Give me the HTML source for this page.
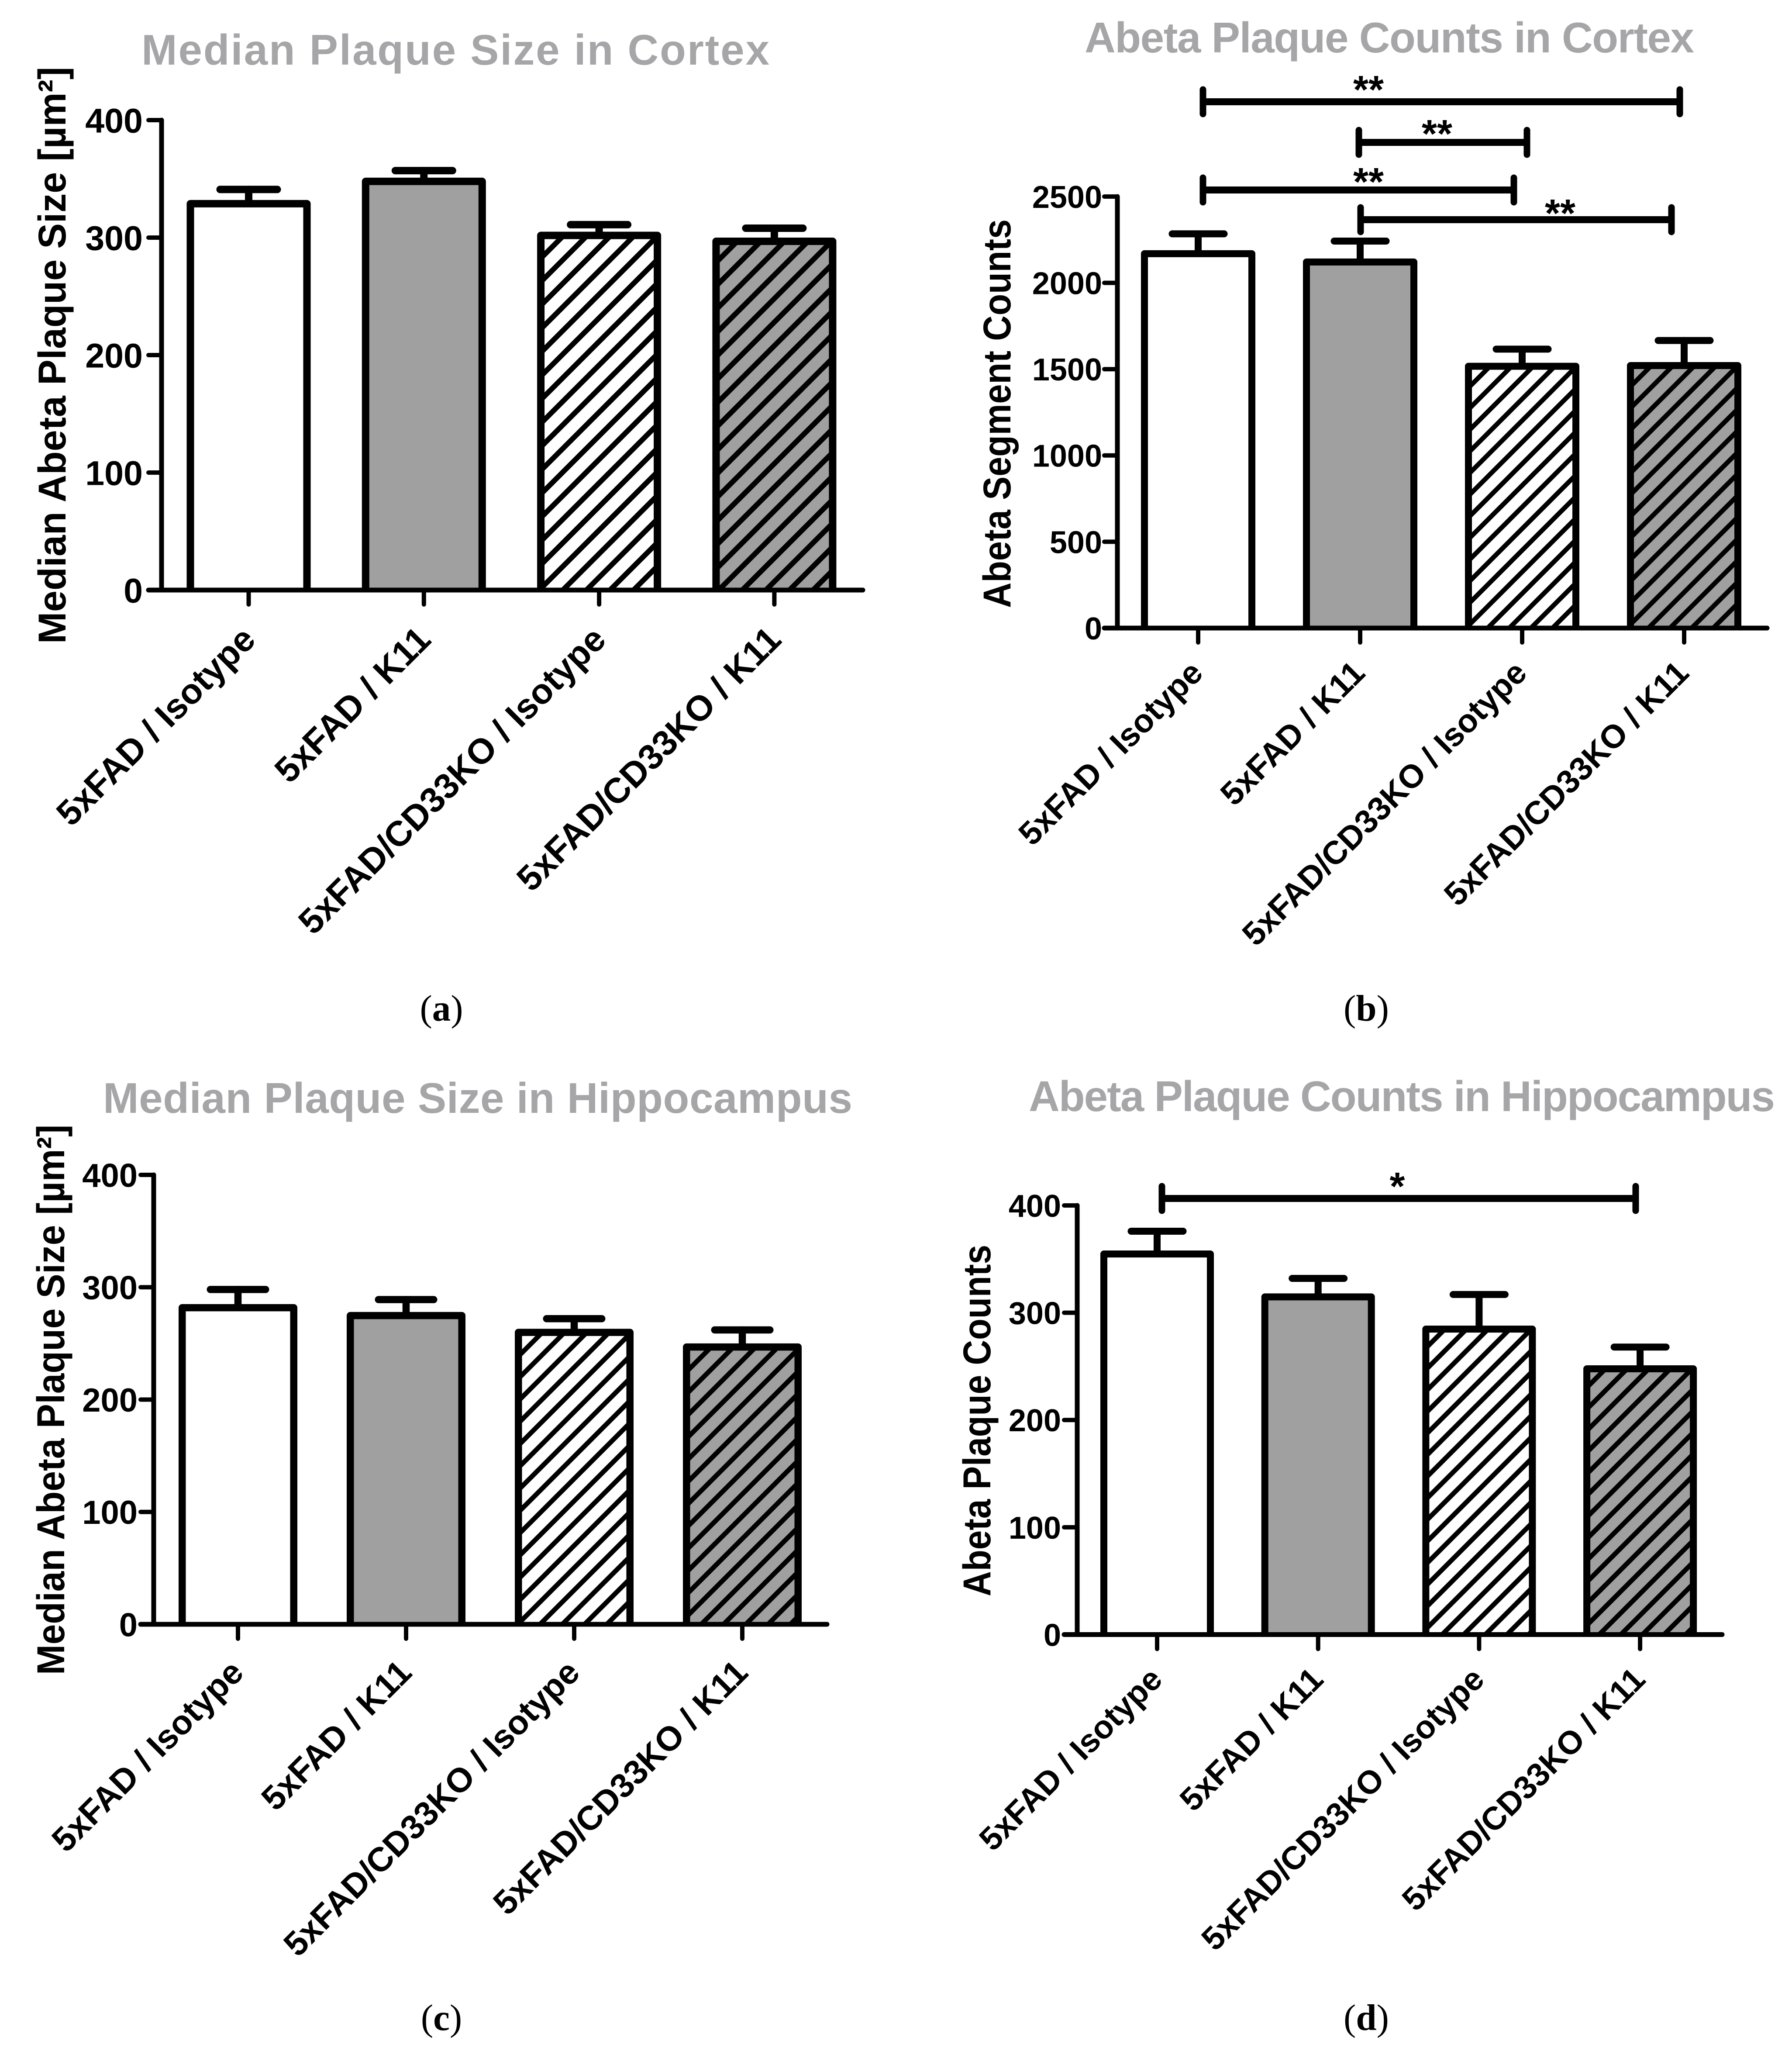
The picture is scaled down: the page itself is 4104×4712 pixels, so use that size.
<!DOCTYPE html>
<html lang="en">
<head>
<meta charset="utf-8">
<title>Plaque size and counts</title>
<style>
html,body{margin:0;padding:0;background:#fff}
svg{display:block}
text{font-family:"Liberation Sans",Arial,sans-serif;font-weight:bold;fill:#000}
.title{fill:#a6a6a8;font-size:98px}
.ytitle{font-size:89px}
.caption{font-family:"Liberation Serif",serif;font-weight:normal;font-size:85px}
.caption tspan{font-weight:bold}
</style>
</head>
<body>
<svg id="figure" xmlns="http://www.w3.org/2000/svg" width="4104" height="4712" viewBox="0 0 4104 4712">
<rect width="4104" height="4712" fill="#fff"/>
<defs id="hatch-defs"></defs>
<g id="panel-a">
<text class="title" x="324" y="148" textLength="1438" lengthAdjust="spacing">Median Plaque Size in Cortex</text>
<text class="ytitle" transform="translate(150,1474) rotate(-90)" textLength="1321" lengthAdjust="spacingAndGlyphs">Median Abeta Plaque Size [µm²]</text>
</g>
<g id="panel-b">
<text class="title" x="2484" y="120" textLength="1396" lengthAdjust="spacing">Abeta Plaque Counts in Cortex</text>
<text class="ytitle" transform="translate(2314,1392) rotate(-90)" textLength="890" lengthAdjust="spacingAndGlyphs">Abeta Segment Counts</text>
</g>
<g id="panel-c">
<text class="title" x="236" y="2548" textLength="1716" lengthAdjust="spacing">Median Plaque Size in Hippocampus</text>
<text class="ytitle" transform="translate(147,3835) rotate(-90)" textLength="1260" lengthAdjust="spacingAndGlyphs">Median Abeta Plaque Size [µm²]</text>
</g>
<g id="panel-d">
<text class="title" x="2356" y="2544" textLength="1709" lengthAdjust="spacing">Abeta Plaque Counts in Hippocampus</text>
<text class="ytitle" transform="translate(2268,3655) rotate(-90)" textLength="805" lengthAdjust="spacingAndGlyphs">Abeta Plaque Counts</text>
</g>
<text class="caption" x="1011" y="2337" text-anchor="middle">(<tspan>a</tspan>)</text>
<text class="caption" x="3129" y="2337" text-anchor="middle">(<tspan>b</tspan>)</text>
<text class="caption" x="1011" y="4648" text-anchor="middle">(<tspan>c</tspan>)</text>
<text class="caption" x="3129" y="4648" text-anchor="middle">(<tspan>d</tspan>)</text>
</svg>
<script>
const categories = ["5xFAD / Isotype", "5xFAD / K11", "5xFAD/CD33KO / Isotype", "5xFAD/CD33KO / K11"];

const ticksSize = [0, 100, 200, 300, 400];
const ticksCortexCounts = [0, 500, 1000, 1500, 2000, 2500];
const ticksHippoCounts = [0, 100, 200, 300, 400];

const cortexSizeMeans = [332, 351, 305, 300];
const cortexSizeUpper = [341, 357, 311, 308];
const cortexCountMeans = [2189, 2141, 1537, 1541];
const cortexCountUpper = [2284, 2242, 1616, 1666];
const hippoSizeMeans = [285, 278, 263, 250];
const hippoSizeUpper = [298, 289, 272, 262];
const hippoCountMeans = [358, 318, 288, 251];
const hippoCountUpper = [376, 332, 317, 268];

const NS = "http://www.w3.org/2000/svg";
const panelLayouts = [
  {id:"panel-a", key:"a", means:cortexSizeMeans, upper:cortexSizeUpper, ticks:ticksSize,
   axisX:370, y0:1351, yTop:275, xRight:1976, firstTick:569.5, tickStep:401.3, barW:284, stroke:17, capW:148, tickFont:79, labelRight:324,
   labelFont:81, labelDx:20, labelDy:118,
   hatchPeriod:54, hatchWidth:12, hatchPhase:[48, 27],
   brackets:[]},
  {id:"panel-b", key:"b", means:cortexCountMeans, upper:cortexCountUpper, ticks:ticksCortexCounts,
   axisX:2559, y0:1438, yTop:450, xRight:4047, firstTick:2744, tickStep:371, barW:262, stroke:16, capW:135, tickFont:72, labelRight:2521,
   labelFont:75, labelDx:15, labelDy:107,
   hatchPeriod:49.5, hatchWidth:10.7, hatchPhase:[43.5, 15.6],
   brackets:[
     {x1:2755, x2:3847, y:233, h:28, sx:3134, sy:196, stars:"**"},
     {x1:3112, x2:3497, y:326, h:28, sx:3291, sy:297, stars:"**"},
     {x1:2755, x2:3467, y:435, h:28, sx:3134, sy:407, stars:"**"},
     {x1:3116, x2:3828, y:503, h:28, sx:3573, sy:479, stars:"**"}
   ]},
  {id:"panel-c", key:"c", means:hippoSizeMeans, upper:hippoSizeUpper, ticks:ticksSize,
   axisX:352, y0:3719, yTop:2690, xRight:1894, firstTick:545, tickStep:385, barW:272, stroke:16.5, capW:143, tickFont:76, labelRight:312,
   labelFont:78, labelDx:17, labelDy:115,
   hatchPeriod:51, hatchWidth:11, hatchPhase:[8.7, 21],
   brackets:[]},
  {id:"panel-d", key:"d", means:hippoCountMeans, upper:hippoCountUpper, ticks:ticksHippoCounts,
   axisX:2467, y0:3742.5, yTop:2760, xRight:3944, firstTick:2650, tickStep:368.7, barW:260, stroke:16, capW:135, tickFont:72, labelRight:2427,
   labelFont:74.5, labelDx:16, labelDy:107,
   hatchPeriod:49.5, hatchWidth:11, hatchPhase:[16.2, 29.5],
   brackets:[
     {x1:2661, x2:3746, y:2744, h:28, sx:3200, sy:2707, stars:"*"}
   ]}
];

function mk(tag, attrs, parent) {
  const el = document.createElementNS(NS, tag);
  for (const k in attrs) el.setAttribute(k, attrs[k]);
  parent.appendChild(el);
  return el;
}
function lineEl(x1, y1, x2, y2, w, parent) {
  return mk("line", {x1:x1, y1:y1, x2:x2, y2:y2, stroke:"#000", "stroke-width":w, "stroke-linecap":"round"}, parent);
}

const defs = document.getElementById("hatch-defs");

function drawPanel(p) {
  const g = document.getElementById(p.id);
  const maxTick = Math.max.apply(null, p.ticks);
  const yScale = function (v) { return p.y0 - (v / maxTick) * (p.y0 - p.yTop); };
  const xScale = function (i) { return p.firstTick + i * p.tickStep; };
  const s = p.stroke;

  categories.forEach(function (cat, i) {
    const cx = xScale(i);
    const top = yScale(p.means[i]);
    const capY = yScale(p.upper[i]);
    const left = cx - p.barW / 2;

    const stem = lineEl(cx, top + s / 2, cx, capY, s, g);
    
    

    const cap = lineEl(cx - p.capW / 2 + s / 2, capY, cx + p.capW / 2 - s / 2, capY, s, g);
    
    

    const filled = i % 2 === 1;
    const hatched = i >= 2;
    const rectAttrs = {x:left + s / 2, y:top + s / 2, width:p.barW - s, height:p.y0 - top - s / 2,
                       fill:filled ? "#a0a0a0" : "#fff", stroke:"none"};
    const bar = mk("rect", rectAttrs, g);
    
    

    if (hatched) {
      const pid = "hatch-" + p.key + "-" + i;
      const P = p.hatchPeriod;
      const pat = mk("pattern", {id:pid, patternUnits:"userSpaceOnUse", width:P, height:P,
                                 patternTransform:"translate(" + p.hatchPhase[i - 2] + ",0)"}, defs);
      const d = "M-14,14L14,-14M-14," + (P + 14) + "L" + (P + 14) + ",-14M" + (P - 14) + "," + (P + 14) + "L" + (P + 14) + "," + (P - 14);
      mk("path", {d:d, stroke:"#000", "stroke-width":p.hatchWidth, fill:"none"}, pat);
      const hatch = mk("rect", {x:left + s / 2, y:top + s / 2, width:p.barW - s, height:p.y0 - top - s / 2, fill:"url(#" + pid + ")"}, g);
      
      
    }

    const px = left + s / 2, py = top + s / 2, pr = left + p.barW - s / 2;
    const outline = mk("path", {d:"M" + px + "," + p.y0 + "L" + px + "," + py + "L" + pr + "," + py + "L" + pr + "," + p.y0,
                                fill:"none", stroke:"#000", "stroke-width":s, "stroke-linejoin":"round"}, g);
    
    

    const tick = lineEl(cx, p.y0, cx, p.y0 + 33, 10, g);
    
    

    const ex = cx + p.labelDx, ey = p.y0 + p.labelDy;
    const lab = mk("text", {"text-anchor":"end", "font-size":p.labelFont, transform:"translate(" + ex + "," + ey + ") rotate(-45)"}, g);
    lab.textContent = cat;
    
    
  });

  const yAxis = lineEl(p.axisX, p.yTop, p.axisX, p.y0, 11, g);
  
  

  const xAxis = lineEl(p.axisX - 30, p.y0, p.xRight, p.y0, 11, g);
  
  

  p.ticks.forEach(function (t) {
    const y = yScale(t);
    const tk = lineEl(p.axisX - 30, y, p.axisX, y, 10, g);
    
    
    const tl = mk("text", {x:p.labelRight + 3, y:y + p.tickFont * 0.36, "text-anchor":"end", "font-size":p.tickFont}, g);
    tl.textContent = String(t);
    
    
  });

  p.brackets.forEach(function (b, i) {
    const bar = lineEl(b.x1, b.y, b.x2, b.y, 16, g);
    bar.setAttribute("stroke-linecap", "butt");
    
    
    const e1 = lineEl(b.x1, b.y - b.h, b.x1, b.y + b.h, 15, g);
    
    
    const e2 = lineEl(b.x2, b.y - b.h, b.x2, b.y + b.h, 15, g);
    
    
    const st = mk("text", {x:b.sx, y:b.sy + 40, "text-anchor":"middle", "font-size":90}, g);
    st.textContent = b.stars;
    
    
  });
}

panelLayouts.forEach(drawPanel);
</script>
</body>
</html>
